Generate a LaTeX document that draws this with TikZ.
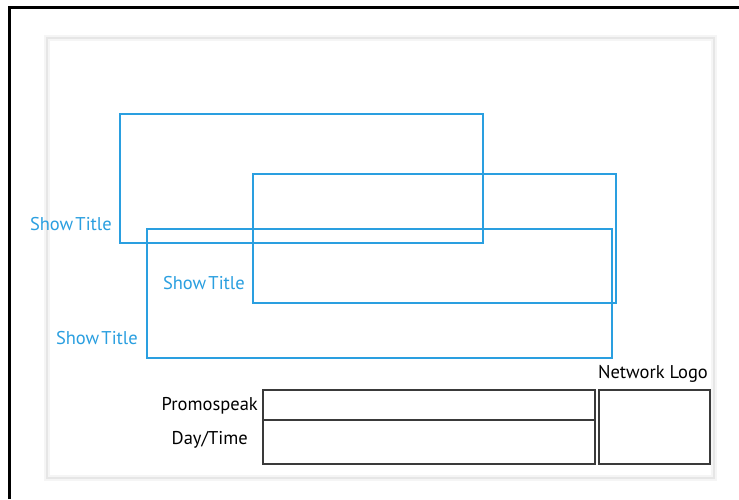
\documentclass[tikz,border=0pt]{standalone}
\usepackage{fontspec}
\setmainfont{PT Sans}
\definecolor{titleblue}{HTML}{2A9FE0}
\definecolor{boxgray}{HTML}{3A3A3A}
\definecolor{safegray}{HTML}{E6E6E6}
\definecolor{safeglow}{HTML}{F5F5F5}
\newcommand{\tightsp}{\hspace{0.12em}}
\begin{document}
\begin{tikzpicture}[x=1pt,y=-1pt,
  titlebox/.style={draw=titleblue, line width=2.4pt, inner sep=0pt, anchor=north west},
  slotbox/.style={draw=boxgray, line width=2pt, inner sep=0pt, anchor=north west},
  titlelabel/.style={text=titleblue, font=\fontsize{18.5}{20}\selectfont, inner sep=0pt},
  slotlabel/.style={text=black, font=\fontsize{18.5}{20}\selectfont, inner sep=0pt}]
  \useasboundingbox (0,0) rectangle (739,499);
  \fill[white] (0,0) rectangle (739,499);
  % frame edges (top and left)
  \draw[black, line width=3pt] (9,499) -- (9,7) -- (739,7);
  % title-safe area
  \draw[safeglow, line width=6pt] (47,38) rectangle (714,478);
  \draw[safegray, line width=1.4pt] (47,38) rectangle (714,478);
  % show title positions
  \node[titlebox, minimum width=363pt, minimum height=129pt] (t1) at (119,113) {};
  \node[titlebox, minimum width=363pt, minimum height=129pt] (t2) at (252,173) {};
  \node[titlebox, minimum width=465pt, minimum height=129pt] (t3) at (146,228) {};
  \node[titlelabel, anchor=base east] (l1) at (112,230) {Show\tightsp Title};
  \node[titlelabel, anchor=base east] (l2) at (245,289) {Show\tightsp Title};
  \node[titlelabel, anchor=base east] (l3) at (138,344) {Show\tightsp Title};
  % lower third slots
  \node[slotbox, minimum width=332pt, minimum height=30pt] (promo) at (262,389) {};
  \node[slotbox, minimum width=332pt, minimum height=44pt] (day) at (262,419) {};
  \node[slotbox, minimum width=111pt, minimum height=74pt] (logo) at (598,389) {};
  \node[slotlabel, anchor=base east] (lp) at (258,410) {Promospeak};
  \node[slotlabel, anchor=base east] (ld) at (248,444) {Day/Time};
  \node[slotlabel, anchor=base] (ll) at (653,378) {Network Logo};
\end{tikzpicture}
\end{document}
